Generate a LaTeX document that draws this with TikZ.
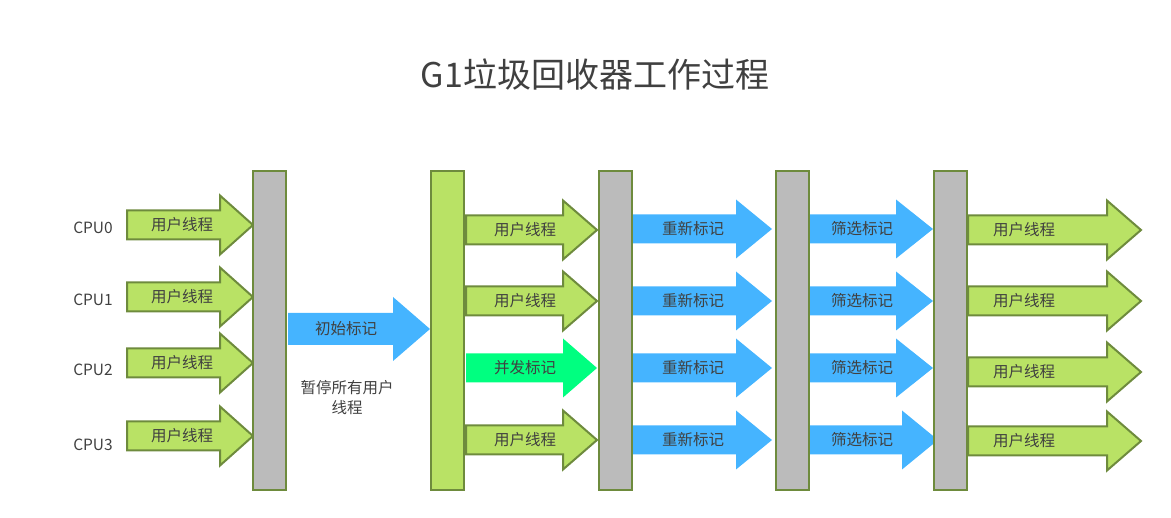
\documentclass[tikz,border=0pt]{standalone}
\usepackage{fontspec}
\setmainfont{Noto Sans CJK SC}
\definecolor{olive}{HTML}{6E8B3D}
\definecolor{leaf}{HTML}{B9E265}
\definecolor{sky}{HTML}{45B4FF}
\definecolor{mint}{HTML}{00FF80}
\definecolor{bargray}{HTML}{BBBBBB}
\definecolor{ink}{HTML}{404040}
\tikzset{
  lbl/.style={text=ink, inner sep=0pt, font=\fontsize{15.5}{20}\selectfont},
  userarrow/.style={fill=leaf, draw=olive, line width=2pt},
  markarrow/.style={fill=sky, draw=none},
  concarrow/.style={fill=mint, draw=none},
  graybar/.style={fill=bargray, draw=olive, line width=2pt, minimum width=33, minimum height=319, anchor=north west, inner sep=0pt},
  greenbar/.style={graybar, fill=leaf}
}
% block arrow: style, x start, x head, x tip, y centre, x text, text, name
\newcommand{\fatarrow}[8]{%
  \draw[#1] (#2,#5-14.5) -- (#3,#5-14.5) -- (#3,#5-29.5) -- (#4,#5) -- (#3,#5+29.5) -- (#3,#5+14.5) -- (#2,#5+14.5) -- cycle;
  \node[lbl] (#8) at (#6,#5) {#7};}
\begin{document}
\begin{tikzpicture}[x=1pt, y=-1pt]
			\useasboundingbox (0,0) rectangle (1171,518);

			% title
			\node[text=ink, inner sep=0pt, font=\fontsize{34}{40}\selectfont] (title) at (595,74) {G1垃圾回收器工作过程};

			% cpu labels
			\foreach \i/\y in {0/228,1/300,2/370,3/445}
				\node[lbl] (cpu\i) at (93,\y) {CPU\i};

			% user threads before the pause
			\foreach \i/\y in {0/225,1/297,2/363,3/436}
				\fatarrow{userarrow}{127}{220}{253}{\y}{182}{用户线程}{u\i};

			% initial mark
			\draw[markarrow] (288,313) -- (393,313) -- (393,297) -- (430,329) -- (393,361) -- (393,345) -- (288,345) -- cycle;
			\node[lbl] (init) at (346,329) {初始标记};
			\node[lbl, align=center] (pause) at (347,398) {暂停所有用户\\线程};

			% concurrent phase
			\fatarrow{userarrow}{466}{563}{597}{230}{525}{用户线程}{c0};
			\fatarrow{userarrow}{466}{563}{597}{301}{525}{用户线程}{c1};
			\fatarrow{concarrow}{466}{563}{597}{368}{525}{并发标记}{c2};
			\fatarrow{userarrow}{466}{563}{597}{440}{525}{用户线程}{c3};

			% remark
			\foreach \i/\y in {0/229,1/301,2/368,3/440}
				\fatarrow{markarrow}{631}{736}{772}{\y}{693}{重新标记}{r\i};

			% screening
			\foreach \i/\y in {0/229,1/301,2/368}
				\fatarrow{markarrow}{809}{896}{933}{\y}{862}{筛选标记}{s\i};
			\fatarrow{markarrow}{809}{902}{938}{440}{862}{筛选标记}{s3};

			% user threads after
			\foreach \i/\y in {0/230,1/301,2/372,3/441}
				\fatarrow{userarrow}{968}{1107}{1141}{\y}{1024}{用户线程}{a\i};

			% bars
			\node[graybar] (bar1) at (252,170) {};
			\node[greenbar] (bar2) at (430,170) {};
			\node[graybar] (bar3) at (598,170) {};
			\node[graybar] (bar4) at (775,170) {};
			\node[graybar] (bar5) at (933,170) {};
		\end{tikzpicture}
\end{document}
